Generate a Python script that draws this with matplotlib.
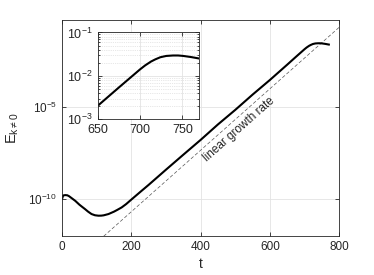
import numpy as np
import matplotlib
matplotlib.use("Agg")
import matplotlib.pyplot as plt
from matplotlib.ticker import FixedLocator, NullLocator, LogLocator, FuncFormatter

plt.rcParams['font.family'] = ['Liberation Sans', 'DejaVu Sans']
plt.rcParams['mathtext.fontset'] = 'custom'
plt.rcParams['mathtext.rm'] = 'Liberation Sans'
plt.rcParams['mathtext.it'] = 'Liberation Sans'

# energy of the k != 0 modes
t = [0, 3, 9, 15, 20, 30, 38, 50, 58, 66, 75, 85, 95, 105, 113, 120, 134,
     150, 160, 172, 185, 200, 225, 250, 300, 350, 400, 450, 500, 550, 600,
     650, 675, 700, 706, 713, 718, 724, 731, 739, 745, 751, 760, 770]
E = [1.05e-10, 1.58e-10, 1.66e-10, 1.62e-10, 1.45e-10, 1.05e-10, 8.1e-11,
     5.0e-11, 3.8e-11, 2.9e-11, 2.1e-11, 1.55e-11, 1.33e-11, 1.26e-11,
     1.27e-11, 1.32e-11, 1.55e-11, 2.1e-11, 2.65e-11, 3.55e-11, 5.4e-11,
     9.5e-11, 2.4e-10, 6.0e-10, 4.0e-9, 2.6e-8, 1.66e-7, 1.15e-6, 7.1e-6,
     4.8e-5, 3.0e-4, 2.04e-3, 5.4e-3, 1.41e-2, 1.74e-2, 2.14e-2, 2.4e-2,
     2.69e-2, 2.88e-2, 2.95e-2, 2.95e-2, 2.88e-2, 2.72e-2, 2.51e-2]

# reference line: linear growth rate (decades per time unit) through (t0, E0)
gamma = 0.0167
t0, E0 = 121, 1e-12
t_ref = [0, 800]

xticks = [0, 200, 400, 600, 800]
yticks = [1e-10, 1e-5]
inset_xticks = [650, 700, 750]
inset_yticks = [1e-3, 1e-2, 1e-1]

dark = '#262626'
gridc = '#e3e3e3'


def pow10(v, pos):
    return r'$10^{%d}$' % int(round(np.log10(v)))


fig = plt.figure(figsize=(3.74, 2.75), dpi=100)
ax = fig.add_axes([0.166, 0.142, 0.741, 0.785])

E_ref = [E0 * 10 ** (gamma * (tt - t0)) for tt in t_ref]
ax.plot(t_ref, E_ref, '--', color='#555555', lw=0.5, dashes=(5, 3))
ax.plot(t, E, color='black', lw=1.5)
ax.set_yscale('log')
ax.set_xlim(0, 800)
ax.set_ylim(1e-12, 10 ** -0.27)
ax.xaxis.set_major_locator(FixedLocator(xticks))
ax.yaxis.set_major_locator(FixedLocator(yticks))
ax.yaxis.set_minor_locator(NullLocator())
ax.yaxis.set_major_formatter(FuncFormatter(pow10))
ax.grid(True, color=gridc, lw=0.6)
ax.tick_params(direction='in', top=True, right=True, labelsize=8.5,
               colors=dark, length=3, width=0.6)
for s in ax.spines.values():
    s.set_color(dark)
    s.set_linewidth(0.6)
ax.set_xlabel('t', fontsize=10, color=dark, labelpad=3)
ax.set_ylabel(r'$\mathrm{E_{k\neq0}}$', fontsize=10.5, color=dark, labelpad=5)
ax.text(512, 10 ** -6.22, 'linear growth rate', rotation=41.5,
        ha='center', va='center', fontsize=8.5, color=dark)

# inset
ins = fig.add_axes([0.261, 0.566, 0.272, 0.316])
ins.plot(t, E, color='black', lw=1.5)
ins.set_yscale('log')
ins.set_xlim(650, 770)
ins.set_ylim(1e-3, 1e-1)
ins.xaxis.set_major_locator(FixedLocator(inset_xticks))
ins.yaxis.set_major_locator(FixedLocator(inset_yticks))
ins.yaxis.set_minor_locator(LogLocator(base=10, subs=np.arange(2, 10)))
ins.yaxis.set_major_formatter(FuncFormatter(pow10))
ins.yaxis.set_minor_formatter(FuncFormatter(lambda v, p: ''))
ins.grid(True, which='major', color=gridc, lw=0.6)
ins.grid(True, which='minor', axis='y', color='#d0d0d0', lw=0.5, ls=':')
ins.tick_params(which='both', direction='in', top=True, right=True,
                labelsize=9, colors=dark, width=0.6)
ins.tick_params(which='major', length=3)
ins.tick_params(which='minor', length=1.5)
for s in ins.spines.values():
    s.set_color(dark)
    s.set_linewidth(0.6)

fig.savefig('out.png', dpi=100)
